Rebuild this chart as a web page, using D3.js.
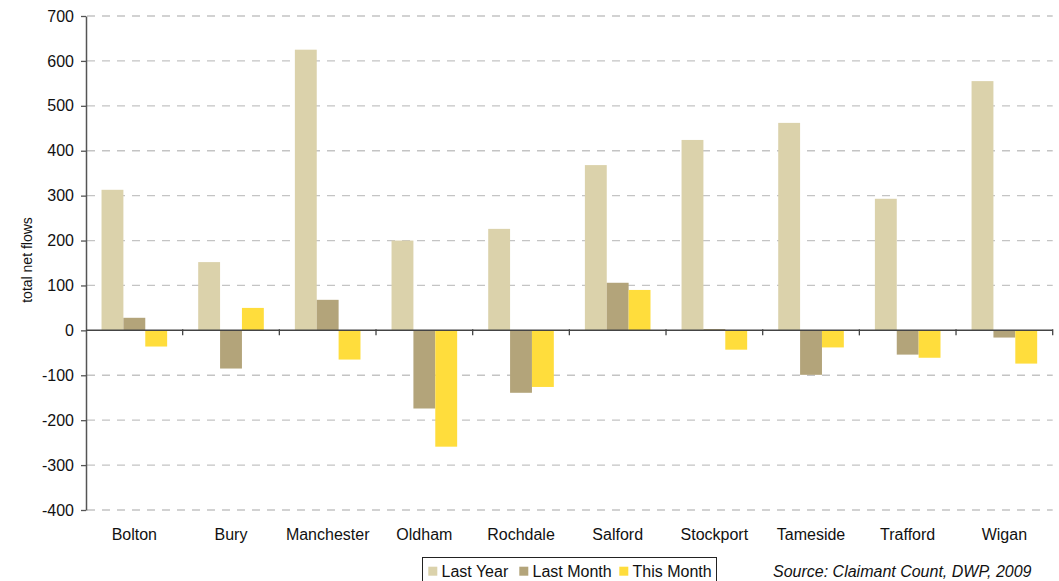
<!DOCTYPE html>
<html>
<head>
<meta charset="utf-8">
<script src="https://cdn.jsdelivr.net/npm/d3@7/dist/d3.min.js"></script>
<style>
  html, body { margin: 0; padding: 0; background: #fff; }
  svg { display: block; font-family: "Liberation Sans", Arial, sans-serif; }
</style>
</head>
<body>
<svg id="chart" width="1059" height="581"></svg>
<script>
const categories = ["Bolton", "Bury", "Manchester", "Oldham", "Rochdale", "Salford", "Stockport", "Tameside", "Trafford", "Wigan"];
const seriesNames = ["Last Year", "Last Month", "This Month"];
const lastYear  = [313, 152, 625, 200, 226, 368, 424, 462, 293, 555];
const lastMonth = [28, -85, 68, -174, -139, 106, 3, -99, -54, -16];
const thisMonth = [-36, 50, -65, -259, -126, 90, -43, -38, -61, -74];
const yTicks = [-400, -300, -200, -100, 0, 100, 200, 300, 400, 500, 600, 700];
const colors = ["#DBD2AB", "#B3A47A", "#FFDD3C"];
const yLabel = "total net flows";
const sourceText = "Source: Claimant Count, DWP, 2009";

const seriesValues = [lastYear, lastMonth, thisMonth];
const svg = d3.select("#chart");
const pLeft = 86, pRight = 1052.7, pTop = 16, pBottom = 510;

const x = d3.scaleBand().domain(categories).range([pLeft, pRight]).paddingInner(0).paddingOuter(0);
const x1 = d3.scaleBand().domain(seriesNames).range([0, x.bandwidth()]).paddingInner(0).paddingOuter(0.71);
const y = d3.scaleLinear().domain([-400, 700]).range([pBottom, pTop]);

// gridlines
svg.append("g").selectAll("line").data(yTicks.filter(t => t !== 0)).join("line")
  .attr("x1", pLeft + 1).attr("x2", pRight)
  .attr("y1", d => y(d)).attr("y2", d => y(d))
  .attr("stroke", "#c4c4c4").attr("stroke-width", 1.3)
  .attr("stroke-dasharray", "8,7");

// bars
const groups = svg.append("g").selectAll("g").data(categories).join("g")
  .attr("transform", d => `translate(${x(d)},0)`);
groups.selectAll("rect").data((c, i) => seriesNames.map((s, j) => ({ s, j, v: seriesValues[j][i] })))
  .join("rect")
  .attr("x", d => x1(d.s))
  .attr("width", x1.bandwidth())
  .attr("y", d => y(Math.max(0, d.v)))
  .attr("height", d => Math.abs(y(d.v) - y(0)))
  .attr("fill", d => colors[d.j]);

// y axis
const yAxis = d3.axisLeft(y).tickValues(yTicks).tickFormat(d => String(d))
  .tickSize(5).tickSizeOuter(0).tickPadding(7);
const gy = svg.append("g").attr("transform", `translate(${pLeft},0)`).call(yAxis);
gy.select(".domain").attr("stroke", "#555").attr("stroke-width", 1.5);
gy.selectAll(".tick line").attr("stroke", "#555").attr("stroke-width", 1.3);
gy.selectAll(".tick text").attr("font-size", 16).attr("fill", "#111").attr("font-family", "Liberation Sans, Arial, sans-serif");

// zero line with category boundary ticks
const boundaries = categories.map(c => x(c)).concat([pRight]);
const zg = svg.append("g");
zg.append("line").attr("x1", pLeft).attr("x2", pRight).attr("y1", y(0)).attr("y2", y(0))
  .attr("stroke", "#444").attr("stroke-width", 1.5);
zg.selectAll("line.t").data(boundaries.slice(1)).join("line").attr("class", "t")
  .attr("x1", d => d).attr("x2", d => d).attr("y1", y(0) - 1).attr("y2", y(0) + 5)
  .attr("stroke", "#444").attr("stroke-width", 1.3);

// category labels
svg.append("g").selectAll("text").data(categories).join("text")
  .attr("x", d => x(d) + x.bandwidth() / 2)
  .attr("y", 540)
  .attr("text-anchor", "middle")
  .attr("font-size", 16).attr("fill", "#111")
  .text(d => d);

// y label
svg.append("text")
  .attr("transform", `translate(32,260) rotate(-90)`)
  .attr("text-anchor", "middle")
  .attr("font-size", 14).attr("fill", "#111")
  .text(yLabel);

// legend
const lg = svg.append("g");
lg.append("rect").attr("x", 422.5).attr("y", 557.5).attr("width", 294).attr("height", 30)
  .attr("fill", "#fff").attr("stroke", "#222").attr("stroke-width", 1);
const legendX = [428.3, 519.3, 619.3];
seriesNames.forEach((s, i) => {
  lg.append("rect").attr("x", legendX[i]).attr("y", 566.7).attr("width", 9).attr("height", 9).attr("fill", colors[i]);
  lg.append("text").attr("x", legendX[i] + 13.2).attr("y", 576.5).attr("font-size", 16).attr("fill", "#111").text(s);
});

// source
svg.append("text").attr("x", 773).attr("y", 577).attr("font-size", 16)
  .attr("font-style", "italic").attr("fill", "#111").text(sourceText);
</script>
</body>
</html>
